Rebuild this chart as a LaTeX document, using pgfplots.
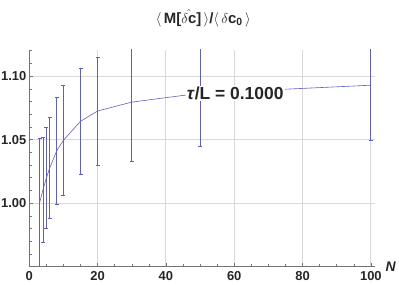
\documentclass[border=0pt]{standalone}
\usepackage{fontspec}
\setmainfont{Liberation Sans}
\usepackage{pgfplots}
\pgfplotsset{compat=1.18}
\definecolor{serc}{RGB}{96,96,188}
\begin{document}
\begin{tikzpicture}
\begin{axis}[
  scale only axis, width=346bp, height=216.7bp,
  xmin=0, xmax=101.3, ymin=0.95, ymax=1.1205,
  axis lines*=left,
  axis line style={color=black!55, line width=0.6bp},
  xtick={0,20,40,60,80,100},
  minor xtick={5,10,15,25,30,35,45,50,55,65,70,75,85,90,95},
  ytick={1.00,1.05,1.10},
  yticklabels={1.00,1.05,1.10},
  minor ytick={0.96,0.97,0.98,0.99,1.01,1.02,1.03,1.04,1.06,1.07,1.08,1.09,1.11,1.12},
  tick align=inside, major tick length=4bp, minor tick length=2.5bp,
  tick style={color=black!55, line width=0.5bp},
  grid=major, major grid style={color=black!15, line width=0.9bp},
  /pgf/number format/assume math mode=true,
  ticklabel style={font=\fontsize{13}{15}\selectfont\bfseries, text=black!85},
  yticklabel style={xshift=0.5bp},
  xticklabel style={yshift=-1bp},
]
\addplot[color=serc, line width=0.6bp, mark=none,
  error bars/.cd, y dir=both, y explicit,
  error bar style={color=serc, line width=0.8bp},
  error mark=-,
  error mark options={rotate=90, color=serc, mark size=2bp, line width=0.8bp}]
  table[x=N, y=v, y error=e] {
N v e
3 1.0000 0.0510
4 1.0105 0.0415
5 1.0198 0.0398
6 1.0278 0.0398
8 1.0410 0.0420
10 1.0495 0.0432
15 1.0644 0.0416
20 1.0725 0.0425
30 1.0795 0.0465
50 1.0865 0.0422
100 1.0928 0.0435
};
\node[fill=white, inner sep=1pt, font=\fontsize{17.5}{19}\selectfont\bfseries, text=black!85]
  at (axis cs:60.3,1.0862) {\textit{τ}/L = 0.1000};
\end{axis}
\node[anchor=base, font=\fontsize{15}{17}\selectfont\bfseries, text=black!85]
  at (174bp,243.5bp) {$\langle\,$M[$\hat{\delta\mbox{c}}$]$\,\rangle$/$\langle\,\delta$c$_{\mbox{\fontsize{10.5}{11}\selectfont\bfseries 0}}\,\rangle$};
\node[anchor=base west, inner sep=0pt, font=\fontsize{14}{16}\selectfont\bfseries\itshape, text=black!85]
  at (356bp,-5bp) {N};
\pgfresetboundingbox
\path[use as bounding box] (-29.3bp,-18.3bp) rectangle (369.7bp,266.7bp);
\end{tikzpicture}
\end{document}
